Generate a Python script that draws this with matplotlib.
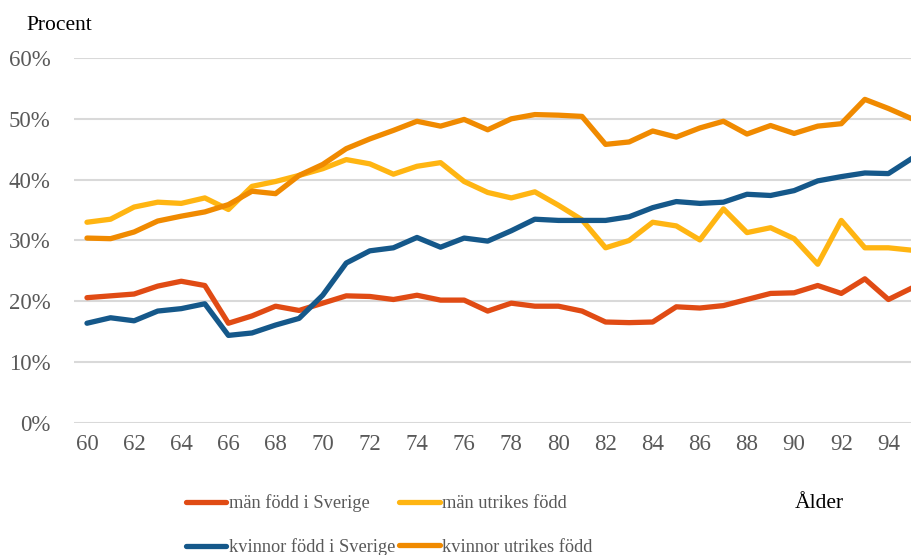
import matplotlib
matplotlib.use("Agg")
import matplotlib.pyplot as plt
from matplotlib.ticker import PercentFormatter

# ålder 60-95
alder = list(range(60, 96))

man_sverige = [20.6, 20.9, 21.2, 22.5, 23.3, 22.6, 16.4, 17.6, 19.2, 18.5,
               19.7, 20.9, 20.8, 20.3, 21.0, 20.2, 20.2, 18.4, 19.7, 19.2,
               19.2, 18.4, 16.6, 16.5, 16.6, 19.1, 18.9, 19.3, 20.3, 21.3,
               21.4, 22.6, 21.3, 23.7, 20.3, 22.2]
man_utrikes = [33.0, 33.5, 35.5, 36.3, 36.1, 37.0, 35.1, 38.9, 39.7, 40.7,
               41.8, 43.3, 42.6, 40.9, 42.2, 42.8, 39.7, 37.9, 37.0, 38.0,
               35.8, 33.4, 28.8, 30.0, 33.0, 32.4, 30.1, 35.2, 31.3, 32.1,
               30.3, 26.1, 33.3, 28.8, 28.8, 28.4]
kvinnor_sverige = [16.4, 17.3, 16.8, 18.4, 18.8, 19.6, 14.4, 14.8, 16.1, 17.2,
                   21.0, 26.3, 28.3, 28.8, 30.5, 28.9, 30.4, 29.9, 31.6, 33.5,
                   33.3, 33.3, 33.3, 33.9, 35.4, 36.4, 36.1, 36.3, 37.6, 37.4,
                   38.2, 39.8, 40.5, 41.1, 41.0, 43.5]
kvinnor_utrikes = [30.4, 30.3, 31.4, 33.2, 34.0, 34.7, 35.9, 38.1, 37.7, 40.7,
                   42.5, 45.1, 46.7, 48.1, 49.6, 48.8, 49.9, 48.2, 50.0, 50.7,
                   50.6, 50.4, 45.8, 46.2, 48.0, 47.0, 48.5, 49.6, 47.5, 48.9,
                   47.6, 48.8, 49.2, 53.2, 51.7, 50.0]

plt.rcParams['font.family'] = ['Liberation Serif', 'DejaVu Serif']

fig = plt.figure(figsize=(9.12, 5.55), dpi=100)
ax = fig.add_axes([74/912, 1-423/555, 1-74/912, (423-58)/555])

lw = 3.8
l1, = ax.plot(alder, man_sverige, color='#E04B14', lw=lw, solid_capstyle='round', label='män född i Sverige')
l2, = ax.plot(alder, man_utrikes, color='#FFB512', lw=lw, solid_capstyle='round', label='män utrikes född')
l3, = ax.plot(alder, kvinnor_sverige, color='#15588A', lw=lw, solid_capstyle='round', label='kvinnor född i Sverige')
l4, = ax.plot(alder, kvinnor_utrikes, color='#F08A00', lw=lw, solid_capstyle='round', label='kvinnor utrikes född')

ax.set_xlim(59.45, 95.0)
ax.set_ylim(0, 60)
ax.set_yticks(range(0, 61, 10))
ax.yaxis.set_major_formatter(PercentFormatter(decimals=0))
ax.set_xticks(range(60, 96, 2))
ax.grid(axis='y', color='#D9D9D9', lw=1.5)
ax.set_axisbelow(True)
for s in ax.spines.values():
    s.set_visible(False)
ax.tick_params(length=0, labelsize=16.5, labelcolor='#595959')
ax.tick_params(axis='y', pad=17)
ax.tick_params(axis='x', pad=8)

fig.text(26/912, 1-25/555, 'Procent', fontsize=15.5, va='center', ha='left')
fig.text(795/912, 1-503/555, 'Ålder', fontsize=15.5, va='center', ha='left')

# rad 1 män, rad 2 kvinnor
leg = fig.legend([l1, l3, l2, l4], [l.get_label() for l in (l1, l3, l2, l4)],
                 loc='upper left', bbox_to_anchor=(177/912, 1-485/555), ncol=2,
                 frameon=False, fontsize=13.2, handlelength=2.2, handletextpad=0.15,
                 columnspacing=0.2, labelspacing=1.45, borderpad=0)
for t in leg.get_texts():
    t.set_color('#595959')

fig.savefig('out.png', dpi=100)
